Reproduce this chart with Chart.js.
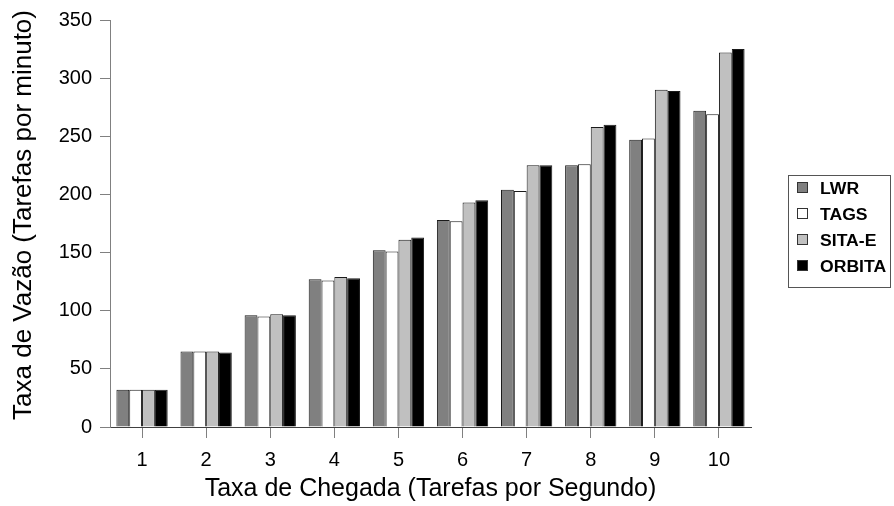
<!DOCTYPE html>
<html>
<head>
<meta charset="utf-8">
<script src="https://cdn.jsdelivr.net/npm/chart.js@4/dist/chart.umd.min.js"></script>
<style>
html,body{margin:0;padding:0;background:#fff;}
#wrap{width:894px;height:506px;position:relative;}
</style>
</head>
<body>
<div id="wrap"><canvas id="c" width="894" height="506"></canvas></div>
<script>
const categories = ['1','2','3','4','5','6','7','8','9','10'];
const lwr    = [32, 65, 96, 127, 152, 178, 204, 225, 247, 272];
const tags   = [32, 65, 95, 126, 151, 177, 203, 226, 248, 269];
const sitaE  = [32, 65, 97, 129, 161, 193, 225, 258, 290, 322];
const orbita = [32, 64, 96, 128, 163, 195, 225, 260, 289, 325];
const seriesNames = ['LWR', 'TAGS', 'SITA-E', 'ORBITA'];
const yTicks = [0, 50, 100, 150, 200, 250, 300, 350];
const xTitle = 'Taxa de Chegada (Tarefas por Segundo)';
const yTitle = 'Taxa de Vazão (Tarefas por minuto)';

const colors = ['#808080', '#ffffff', '#c0c0c0', '#000000'];
const FONT = '"Liberation Sans", Arial, sans-serif';

const decorations = {
  id: 'decorations',
  afterDraw(chart) {
    const ctx = chart.ctx;
    ctx.save();
    // y axis title
    ctx.save();
    ctx.translate(31, 215);
    ctx.rotate(-Math.PI / 2);
    ctx.font = '26px ' + FONT;
    ctx.fillStyle = '#000';
    ctx.textAlign = 'center';
    ctx.textBaseline = 'alphabetic';
    ctx.fillText(yTitle, 0, 0);
    ctx.restore();
    // legend box
    ctx.strokeStyle = '#555';
    ctx.lineWidth = 1;
    ctx.strokeRect(788.5, 175.5, 102, 112);
    chart.data.datasets.forEach((ds, i) => {
      const sy = 182 + i * 26;
      ctx.fillStyle = ds.backgroundColor;
      ctx.fillRect(797, sy, 11, 11);
      ctx.strokeStyle = '#333';
      ctx.strokeRect(797.5, sy + 0.5, 10, 10);
      ctx.fillStyle = '#000';
      ctx.font = 'bold 16px ' + FONT;
      ctx.textBaseline = 'middle';
      ctx.textAlign = 'left';
      ctx.save();
      ctx.translate(820, sy + 8);
      ctx.scale(1.1, 1);
      ctx.fillText(ds.label, 0, 0);
      ctx.restore();
    });
    ctx.restore();
  }
};

const seriesData = [lwr, tags, sitaE, orbita];
new Chart(document.getElementById('c'), {
  type: 'bar',
  data: {
    labels: categories,
    datasets: seriesNames.map((n, i) => ({
      label: n,
      data: seriesData[i],
      backgroundColor: colors[i],
      borderColor: '#1a1a1a',
      borderWidth: 1,
      categoryPercentage: 0.8,
      barPercentage: 1.0
    }))
  },
  options: {
    responsive: false,
    animation: false,
    devicePixelRatio: 1,
    layout: { padding: { top: 19, right: 143, left: 0, bottom: 0 } },
    plugins: { legend: { display: false }, tooltip: { enabled: false } },
    scales: {
      x: {
        grid: { offset: false, drawOnChartArea: false, tickLength: 11, color: '#808080' },
        border: { color: '#404040', width: 1 },
        ticks: { color: '#000', font: { family: FONT, size: 20 }, padding: 10 },
        title: { display: true, text: xTitle, color: '#000', font: { family: FONT, size: 25 }, padding: { top: 0, bottom: 2 } },
        afterFit(scale) { scale.height = 79; }
      },
      y: {
        min: 0, max: 350,
        afterBuildTicks(scale) { scale.ticks = yTicks.map(v => ({ value: v })); },
        grid: { drawOnChartArea: false, tickLength: 10, color: '#808080' },
        border: { color: '#808080', width: 1 },
        ticks: { color: '#000', font: { family: FONT, size: 20 }, padding: 8 },
        title: { display: false },
        afterFit(scale) { scale.width = 110; }
      }
    }
  },
  plugins: [decorations]
});
</script>
</body>
</html>
